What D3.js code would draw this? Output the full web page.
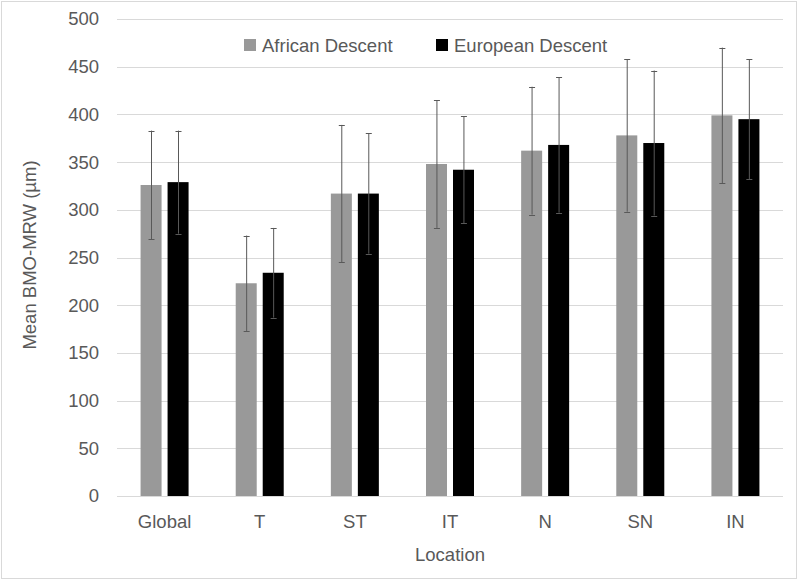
<!DOCTYPE html>
<html>
<head>
<meta charset="utf-8">
<script src="https://cdn.jsdelivr.net/npm/d3@7"></script>
<style>
  body { margin: 0; background: #fff; }
  svg { display: block; }
  text { font-family: "Liberation Sans", Arial, sans-serif; fill: #595959; }
</style>
</head>
<body>
<svg id="chart" width="800" height="581"></svg>
<script>
const categories = ["Global", "T", "ST", "IT", "N", "SN", "IN"];
const seriesNames = ["African Descent", "European Descent"];
const africanMean = [326, 223, 317, 348, 362, 378, 399];
const africanSD   = [57, 50, 72, 67, 67, 80, 71];
const europeanMean = [329, 234, 317, 342, 368, 370, 395];
const europeanSD   = [54, 47, 63, 56, 71, 76, 63];
const yTicks = [0, 50, 100, 150, 200, 250, 300, 350, 400, 450, 500];
const colors = ["#999999", "#000000"];

(function () {
const svg = d3.select("#chart");
const plotL = 117, plotR = 783, plotT = 19, plotB = 496;

// outer border
svg.append("rect").attr("x", 1.5).attr("y", 1.5).attr("width", 795).attr("height", 577)
  .attr("fill", "#fff").attr("stroke", "#d9d9d9").attr("stroke-width", 1);

const x = d3.scaleBand().domain(categories).range([plotL, plotR]).paddingInner(0).paddingOuter(0);
const bw = x.bandwidth();
const groupW = 48;
const xs = d3.scaleBand().domain(seriesNames)
  .range([(bw - groupW) / 2, (bw + groupW) / 2]).paddingInner(6 / 27).paddingOuter(0);
const y = d3.scaleLinear().domain([0, 500]).range([plotB, plotT]);

// gridlines
svg.append("g").selectAll("line").data(yTicks).join("line")
  .attr("x1", plotL).attr("x2", plotR)
  .attr("y1", d => Math.round(y(d)) + 0.5).attr("y2", d => Math.round(y(d)) + 0.5)
  .attr("stroke", "#d9d9d9").attr("stroke-width", 1);

// y axis labels
const yAxis = d3.axisLeft(y).tickValues(yTicks).tickSize(0).tickPadding(0);
const yg = svg.append("g").attr("transform", `translate(${plotL - 18},0)`).call(yAxis);
yg.select(".domain").remove();
yg.selectAll("text").attr("font-size", 18.5).attr("fill", "#595959")
  .style("font-family", '"Liberation Sans", Arial, sans-serif');

// x axis labels
const xAxis = d3.axisBottom(x).tickSize(0).tickPadding(0);
const xg = svg.append("g").attr("transform", `translate(0,${plotB + 19})`).call(xAxis);
xg.select(".domain").remove();
xg.selectAll("text").attr("font-size", 18.5).attr("fill", "#595959").attr("dy", "0.71em")
  .style("font-family", '"Liberation Sans", Arial, sans-serif');

// data
const data = categories.map((c, i) => ({
  cat: c,
  vals: [
    { s: seriesNames[0], m: africanMean[i], sd: africanSD[i], c: colors[0] },
    { s: seriesNames[1], m: europeanMean[i], sd: europeanSD[i], c: colors[1] }
  ]
}));

const groups = svg.append("g").selectAll("g").data(data).join("g")
  .attr("transform", d => `translate(${x(d.cat)},0)`);

groups.selectAll("rect").data(d => d.vals).join("rect")
  .attr("x", d => xs(d.s)).attr("width", xs.bandwidth())
  .attr("y", d => y(d.m)).attr("height", d => y(0) - y(d.m))
  .attr("fill", d => d.c);

// error bars
const eb = groups.selectAll("g.eb").data(d => d.vals).join("g").attr("class", "eb");
const cx = d => Math.round(xs(d.s) + xs.bandwidth() / 2) + 0.5;
eb.append("line").attr("x1", cx).attr("x2", cx)
  .attr("y1", d => y(d.m + d.sd)).attr("y2", d => y(d.m - d.sd))
  .attr("stroke", "#595959").attr("stroke-width", 1);
eb.append("line").attr("x1", d => cx(d) - 3).attr("x2", d => cx(d) + 3)
  .attr("y1", d => Math.round(y(d.m + d.sd)) + 0.5).attr("y2", d => Math.round(y(d.m + d.sd)) + 0.5)
  .attr("stroke", "#595959").attr("stroke-width", 1);
eb.append("line").attr("x1", d => cx(d) - 3).attr("x2", d => cx(d) + 3)
  .attr("y1", d => Math.round(y(d.m - d.sd)) + 0.5).attr("y2", d => Math.round(y(d.m - d.sd)) + 0.5)
  .attr("stroke", "#595959").attr("stroke-width", 1);

// axis titles
svg.append("text").attr("x", (plotL + plotR) / 2).attr("y", 561)
  .attr("text-anchor", "middle").attr("font-size", 18.5).text("Location");
svg.append("text").attr("transform", "translate(36,255) rotate(-90)")
  .attr("text-anchor", "middle").attr("font-size", 18.5).text("Mean BMO-MRW (µm)");

// legend
const legendX = [244, 436];
const lg = svg.append("g").selectAll("g").data(seriesNames).join("g")
  .attr("transform", (d, i) => `translate(${legendX[i]},39)`);
lg.append("rect").attr("width", 12).attr("height", 12).attr("fill", (d, i) => colors[i]);
lg.append("text").attr("x", 18).attr("y", 13).attr("font-size", 18.5).text(d => d);
})();
</script>
</body>
</html>
